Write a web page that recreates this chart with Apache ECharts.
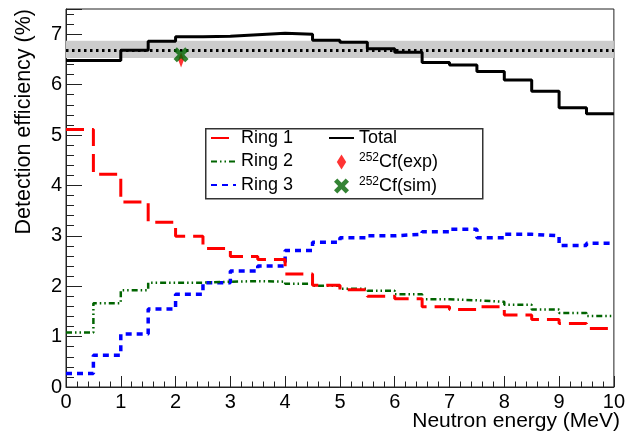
<!DOCTYPE html>
<html><head><meta charset="utf-8">
<script src="https://cdn.jsdelivr.net/npm/echarts@6/dist/echarts.min.js"></script>
<style>html,body{margin:0;padding:0;background:#fff}#c{width:628px;height:435px}</style>
</head><body><div id="c"></div>
<script>
// Bin edges (MeV), 0.5 MeV bins
const binEdges = [0,0.5,1,1.5,2,2.5,3,3.5,4,4.5,5,5.5,6,6.5,7,7.5,8,8.5,9,9.5,10];
// Detection efficiency (%) per bin
const total = [6.48,6.48,6.68,6.86,6.95,6.96,6.99,7.02,7.00,6.88,6.84,6.71,6.64,6.44,6.39,6.26,6.09,5.87,5.54,5.42];
const ring1 = [5.11,4.22,3.67,3.27,2.99,2.75,2.59,2.53,2.24,2.02,1.93,1.80,1.75,1.59,1.54,1.59,1.43,1.34,1.26,1.16];
const ring2 = [1.08,1.66,1.92,2.07,2.07,2.09,2.10,2.09,2.05,2.01,1.95,1.91,1.84,1.74,1.72,1.69,1.63,1.54,1.47,1.41];
const ring3 = [0.27,0.63,1.05,1.55,1.84,2.07,2.30,2.40,2.71,2.87,2.96,3.00,3.03,3.08,3.13,2.96,3.03,3.00,2.81,2.85];
// 252Cf points [energy, efficiency]
const cfExp = [2.1, 6.49];
const cfSim = [2.1, 6.59];
// Band and reference line
const bandLow = 6.53, bandHigh = 6.87, bandMid = 6.69;
const xTicks = [0,1,2,3,4,5,6,7,8,9,10];

function steps(vals){
  const pts = vals.map((v,i)=>[binEdges[i], v]);
  pts.push([binEdges[vals.length], vals[vals.length-1]]);
  return pts;
}
const FF = 'Liberation Sans, Arial, Helvetica, sans-serif';
const chart = echarts.init(document.getElementById('c'), null, {renderer:'canvas'});
const xPath = 'path://M0,2.2L2.2,0L5,2.8L7.8,0L10,2.2L7.2,5L10,7.8L7.8,10L5,7.2L2.2,10L0,7.8L2.8,5Z';
const dPath = 'path://M5,0L10,8L5,16L0,8Z';
const hideSym = {opacity:0};
chart.setOption({
  animation:false,
  backgroundColor:'#fff',
  grid:{left:66,right:8,top:9,bottom:48,show:true,borderColor:'#222',borderWidth:1,backgroundColor:'transparent'},
  xAxis:{type:'value',min:0,max:10,interval:1,
    axisLine:{show:true,lineStyle:{color:'#222',width:1}},
    axisTick:{show:true,inside:true,length:11,lineStyle:{color:'#222'}},
    minorTick:{show:true,splitNumber:5,length:5.5,lineStyle:{color:'#222'}},
    splitLine:{show:false},
    axisLabel:{fontSize:20,fontFamily:FF,color:'#000',margin:5,
      formatter:v=>xTicks.includes(v)?String(v):''}
  },
  yAxis:[{type:'value',min:0,max:7.5,interval:1,
    axisLine:{show:true,lineStyle:{color:'#222',width:1}},
    axisTick:{show:true,inside:true,length:16,lineStyle:{color:'#222'}},
    splitLine:{show:false},
    axisLabel:{fontSize:20,fontFamily:FF,color:'#000',margin:4,
      formatter:v=>Number.isInteger(v)?String(v):''}
  },{type:'value',min:0,max:7.5,interval:0.2,position:'left',
    axisLine:{show:false},
    axisTick:{show:true,inside:true,length:8,lineStyle:{color:'#222'}},
    splitLine:{show:false},axisLabel:{show:false}
  }],
  legend:[{
    data:[{name:'Ring 1',itemStyle:hideSym},{name:'Ring 2',itemStyle:hideSym},{name:'Ring 3',itemStyle:hideSym}],
    orient:'vertical',left:210,top:128,padding:0,
    itemWidth:25,itemHeight:14,itemGap:3.5,selectedMode:false,
    textStyle:{fontSize:18,fontFamily:FF,color:'#000',lineHeight:20}
  },{
    data:[{name:'Total',itemStyle:hideSym},'Cf(exp)','Cf(sim)'],orient:'vertical',left:328,top:128,padding:0,
    itemWidth:25,itemHeight:15,itemGap:3.5,selectedMode:false,
    textStyle:{fontSize:18,fontFamily:FF,color:'#000',lineHeight:20,
      rich:{sup:{fontSize:12,fontFamily:FF,color:'#000',padding:[0,0,9,0]},
            t:{fontSize:18,fontFamily:FF,color:'#000'}}},
    formatter:n=> n==='Total'?n:'{sup|252}{t|'+n+'}'
  }],
  graphic:[
    {type:'rect',left:205,top:128,z:3,shape:{width:277,height:70},style:{fill:'#fff',stroke:'#333',lineWidth:1.5}},
    {type:'text',x:620,y:421,z:5,style:{text:'Neutron energy (MeV)',fontSize:21,fontFamily:FF,fill:'#000',align:'right',verticalAlign:'middle'}},
    {type:'text',x:24,y:9,rotation:Math.PI/2,z:5,style:{text:'Detection efficiency (%)',fontSize:21.5,fontFamily:FF,fill:'#000',align:'right',verticalAlign:'middle'}}
  ],
  series:[
    {name:'band',type:'line',data:[],z:1,silent:true,
      markArea:{silent:true,itemStyle:{color:'#cccccc'},data:[[{yAxis:bandLow},{yAxis:bandHigh}]]},
      markLine:{silent:true,symbol:['none','none'],label:{show:false},
        lineStyle:{color:'#000',width:3,type:[2.5,3.5]},data:[{yAxis:bandMid}]}},
    {name:'Ring 3',type:'line',step:'end',symbol:'none',data:steps(ring3),z:2,
      lineStyle:{color:'#0000ff',width:3.5,type:[6,5]},itemStyle:{color:'#0000ff'}},
    {name:'Ring 2',type:'line',step:'end',symbol:'none',data:steps(ring2),z:3,
      lineStyle:{color:'#006400',width:2.5,type:[6,3,1.5,3,1.5,3]},itemStyle:{color:'#006400'}},
    {name:'Ring 1',type:'line',step:'end',symbol:'none',data:steps(ring1),z:4,
      lineStyle:{color:'#ff0000',width:3,type:[18,8]},itemStyle:{color:'#ff0000'}},
    {name:'Total',type:'line',step:'end',symbol:'none',data:steps(total),z:5,
      lineStyle:{color:'#000',width:3},itemStyle:{color:'#000'}},
    {name:'Cf(exp)',type:'scatter',data:[cfExp],symbol:dPath,symbolSize:[9,15],symbolKeepAspect:true,z:10,
      itemStyle:{color:'#ff0000'}},
    {name:'Cf(sim)',type:'scatter',data:[cfSim],symbol:xPath,symbolSize:15,symbolKeepAspect:true,z:11,
      itemStyle:{color:'#006400'}}
  ]
});
</script></body></html>
